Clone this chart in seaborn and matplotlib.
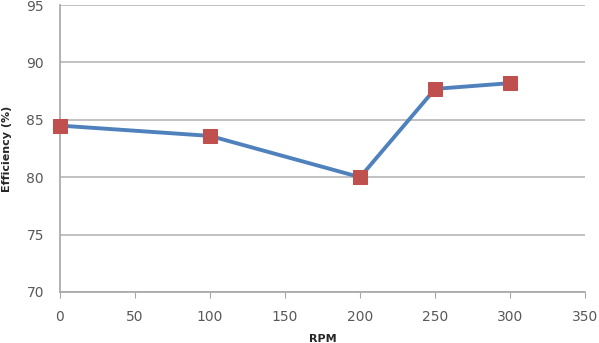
import matplotlib
matplotlib.use("Agg")
import matplotlib.pyplot as plt
import seaborn as sns
import pandas as pd

rpm = [0, 100, 200, 250, 300]
efficiency = [84.5, 83.6, 80.0, 87.7, 88.2]
x_ticks = [0, 50, 100, 150, 200, 250, 300, 350]
y_ticks = [70, 75, 80, 85, 90, 95]

df = pd.DataFrame({"RPM": rpm, "Efficiency": efficiency})

sns.set_style("white")
plt.rcParams['font.family'] = ['DejaVu Sans']

fig = plt.figure(figsize=(5.99, 3.43), dpi=100)
ax = fig.add_axes([0.1, 0.149, 0.877, 0.836])

sns.lineplot(data=df, x="RPM", y="Efficiency", ax=ax, color="#4F81BD",
             linewidth=2.8, marker="s", markersize=10,
             markerfacecolor="#C0504D", markeredgecolor="#C0504D", zorder=3,
             clip_on=False)

ax.set_xlim(0, 350)
ax.set_ylim(70, 95)
ax.set_xticks(x_ticks)
ax.set_yticks(y_ticks)
ax.yaxis.grid(True, color="#B0B0B0", linewidth=1.1)
ax.xaxis.grid(False)
for s in ["top", "right"]:
    ax.spines[s].set_visible(False)
for s in ["left", "bottom"]:
    ax.spines[s].set_color("#A6A6A6")
    ax.spines[s].set_linewidth(1.2)
ax.tick_params(axis="x", which="both", bottom=True, length=4, color="#A6A6A6",
               labelsize=10, labelcolor="#595959", pad=9)
ax.tick_params(axis="y", left=False, labelsize=10, labelcolor="#595959", pad=8)
ax.set_xlabel("RPM", fontsize=8, fontweight="bold", color="#262626", labelpad=7)
ax.set_ylabel("Efficiency (%)", fontsize=8, fontweight="bold", color="#262626", labelpad=10)

fig.savefig("out.png", dpi=100)
